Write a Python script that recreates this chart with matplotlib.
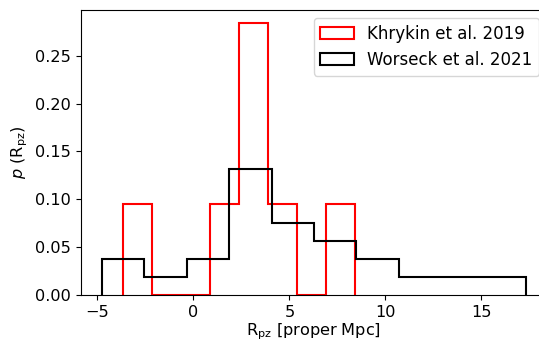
import numpy as np
import matplotlib
matplotlib.use("Agg")
import matplotlib.pyplot as plt

# bin edges and counts per bin for each sample
k19_edges = np.linspace(-3.65, 8.43, 9)
k19_counts = [1, 0, 0, 1, 3, 1, 0, 1]

w21_edges = np.linspace(-4.77, 17.33, 11)
w21_counts = [2, 1, 2, 7, 4, 3, 2, 1, 1, 1]

plt.rcParams['font.size'] = 11.6

fig = plt.figure(figsize=(5.39, 3.40), dpi=100)
ax = fig.add_axes([0.1497, 0.1324, 0.8657, 0.839])

k19_mid = 0.5 * (k19_edges[1:] + k19_edges[:-1])
w21_mid = 0.5 * (w21_edges[1:] + w21_edges[:-1])
ax.hist(k19_mid, bins=k19_edges, weights=k19_counts, density=True,
        histtype='step', color='red', lw=1.5, label='Khrykin et al. 2019')
ax.hist(w21_mid, bins=w21_edges, weights=w21_counts, density=True,
        histtype='step', color='black', lw=1.5, label='Worseck et al. 2021')

ax.set_xlabel(r'R$_{\rm pz}$ [proper Mpc]', labelpad=1.5)
ax.set_ylabel(r'$p$ (R$_{\rm pz}$)')
ax.set_xticks([-5, 0, 5, 10, 15])
ax.set_yticks([0, 0.05, 0.10, 0.15, 0.20, 0.25])
ax.yaxis.set_major_formatter(matplotlib.ticker.FormatStrFormatter('%.2f'))
ax.legend(loc='upper right', fontsize=12)

fig.savefig('out.png', dpi=100)
